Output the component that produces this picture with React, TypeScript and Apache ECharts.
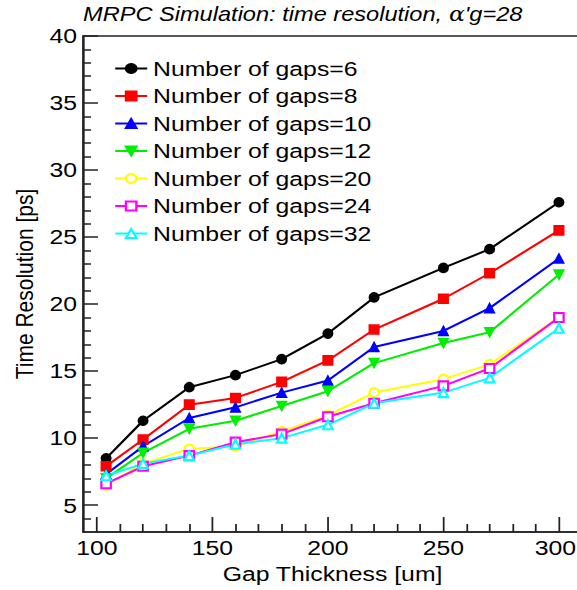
import React, { useEffect, useRef } from "react";
import * as echarts from "echarts";

const gapThickness = [104, 120, 140, 160, 180, 200, 220, 250, 270, 300];
const gaps6 = [8.5, 11.3, 13.8, 14.7, 15.9, 17.8, 20.5, 22.7, 24.1, 27.6];
const gaps8 = [7.9, 9.9, 12.5, 13.0, 14.2, 15.8, 18.1, 20.4, 22.3, 25.5];
const gaps10 = [7.3, 9.4, 11.5, 12.3, 13.4, 14.3, 16.8, 18.0, 19.7, 23.4];
const gaps12 = [7.0, 8.9, 10.7, 11.3, 12.4, 13.5, 15.6, 17.1, 17.9, 22.2];
const gaps20 = [6.5, 8.1, 9.2, 9.4, 10.5, 11.7, 13.4, 14.4, 15.5, 19.0];
const gaps24 = [6.6, 7.9, 8.7, 9.7, 10.3, 11.6, 12.6, 13.9, 15.2, 19.0];
const gaps32 = [7.2, 8.1, 8.7, 9.55, 10.0, 11.0, 12.6, 13.4, 14.5, 18.2];

const seriesNames = [
  "Number of gaps=6",
  "Number of gaps=8",
  "Number of gaps=10",
  "Number of gaps=12",
  "Number of gaps=20",
  "Number of gaps=24",
  "Number of gaps=32",
];
const seriesValues = [gaps6, gaps8, gaps10, gaps12, gaps20, gaps24, gaps32];

const xMajorTicks = [100, 150, 200, 250, 300];
const xMinorTicks = [110, 120, 130, 140, 160, 170, 180, 190, 210, 220, 230, 240, 260, 270, 280, 290];
const yMajorTicks = [5, 10, 15, 20, 25, 30, 35, 40];
const yMinorTicks = [4, 6, 7, 8, 9, 11, 12, 13, 14, 16, 17, 18, 19, 21, 22, 23, 24, 26, 27, 28, 29, 31, 32, 33, 34, 36, 37, 38, 39];

const FONT = "Liberation Sans, Arial, sans-serif";
const AXIS_COLOR = "#222";
// the reference figure is stretched horizontally
const STRETCH = 1.18;
const PAGE_W = 577;
const PAGE_H = 590;

const styles = [
  { color: "#000000", symbol: "circle", rotate: 0 },
  { color: "#ff0000", symbol: "rect", rotate: 0 },
  { color: "#0000ff", symbol: "triangle", rotate: 0 },
  { color: "#00ee00", symbol: "triangle", rotate: 180 },
  { color: "#ffff00", symbol: "emptyCircle", rotate: 0 },
  { color: "#ff00ff", symbol: "emptyRect", rotate: 0 },
  { color: "#00ffff", symbol: "emptyTriangle", rotate: 0 },
];

const sx = (v: number) => v / STRETCH;
const lastX = xMajorTicks[xMajorTicks.length - 1];

export default function App() {
  const ref = useRef<HTMLDivElement>(null);
  useEffect(() => {
    if (!ref.current) return;
    const chart = echarts.init(ref.current, null, { renderer: "svg" });
    const series = seriesNames.map((name, i) => ({
      name,
      type: "line",
      xAxisIndex: 0,
      yAxisIndex: 0,
      data: gapThickness.map((x, j) => [x, seriesValues[i][j]]),
      symbol: styles[i].symbol,
      symbolRotate: styles[i].rotate,
      symbolSize: [8, 9],
      showSymbol: true,
      lineStyle: { color: styles[i].color, width: 2 },
      itemStyle: { color: styles[i].color, borderColor: styles[i].color, borderWidth: 1.5 },
      emphasis: { disabled: true },
    }));
    const lineStyle = { color: AXIS_COLOR, width: 1.5 };
    chart.setOption({
      animation: false,
      title: {
        text: "MRPC Simulation: time resolution, {a|α}'g=28",
        left: sx(83),
        top: 4,
        padding: 0,
        textStyle: {
          fontSize: 20,
          fontStyle: "italic",
          fontWeight: "normal",
          color: "#000",
          fontFamily: FONT,
          rich: {
            a: { fontFamily: "DejaVu Serif", fontStyle: "italic", fontSize: 20, color: "#000" },
          },
        },
      },
      legend: {
        orient: "vertical",
        left: sx(114),
        top: 58,
        padding: 0,
        itemWidth: sx(32),
        itemHeight: 11,
        itemGap: 6.5,
        data: seriesNames,
        textStyle: { fontSize: 21, color: "#000", fontFamily: FONT },
      },
      grid: {
        left: sx(83),
        top: 36,
        right: sx(-5),
        bottom: 58,
        show: true,
        borderColor: AXIS_COLOR,
        borderWidth: 1.5,
        containLabel: false,
        outerBoundsMode: "none",
      },
      xAxis: [
        {
          type: "value",
          min: 94,
          max: 310,
          position: "bottom",
          axisLine: { show: true, onZero: false, lineStyle },
          axisTick: { show: true, inside: true, length: 15, customValues: xMajorTicks, lineStyle },
          axisLabel: {
            show: true,
            customValues: xMajorTicks,
            fontSize: 21,
            color: "#000",
            fontFamily: FONT,
            margin: 5,
            formatter: (v: number) => (v === lastX ? `{e|${v}}` : `${v}`),
            rich: {
              e: { fontSize: 21, color: "#000", fontFamily: FONT, padding: [0, 6, 0, 0] },
            },
          },
          splitLine: { show: false },
          name: "Gap Thickness [um]",
          nameLocation: "middle",
          nameGap: 31,
          nameTextStyle: { fontSize: 21, color: "#000", fontFamily: FONT },
        },
        {
          type: "value",
          min: 94,
          max: 310,
          position: "bottom",
          axisLine: { show: false, onZero: false },
          axisTick: { show: true, inside: true, length: 8, customValues: xMinorTicks, lineStyle },
          axisLabel: { show: false },
          splitLine: { show: false },
        },
      ],
      yAxis: [
        {
          type: "value",
          min: 3,
          max: 40,
          position: "left",
          axisLine: { show: true, onZero: false, lineStyle },
          axisTick: { show: true, inside: true, length: sx(15), customValues: yMajorTicks, lineStyle },
          axisLabel: { show: true, customValues: yMajorTicks, fontSize: 21, color: "#000", fontFamily: FONT, margin: 5 },
          splitLine: { show: false },
          name: "Time Resolution [ps]",
          nameLocation: "middle",
          nameGap: 32,
          nameTextStyle: { fontSize: 21, color: "#000", fontFamily: FONT },
        },
        {
          type: "value",
          min: 3,
          max: 40,
          position: "left",
          axisLine: { show: false, onZero: false },
          axisTick: { show: true, inside: true, length: sx(8), customValues: yMinorTicks, lineStyle },
          axisLabel: { show: false },
          splitLine: { show: false },
        },
      ],
      series,
    });
    return () => chart.dispose();
  }, []);
  return (
    <div style={{ position: "absolute", left: 0, top: 0, width: PAGE_W, height: PAGE_H, overflow: "hidden", background: "#fff" }}>
      <div
        ref={ref}
        style={{
          width: PAGE_W / STRETCH,
          height: PAGE_H,
          transform: `scaleX(${STRETCH})`,
          transformOrigin: "0 0",
        }}
      />
    </div>
  );
}
